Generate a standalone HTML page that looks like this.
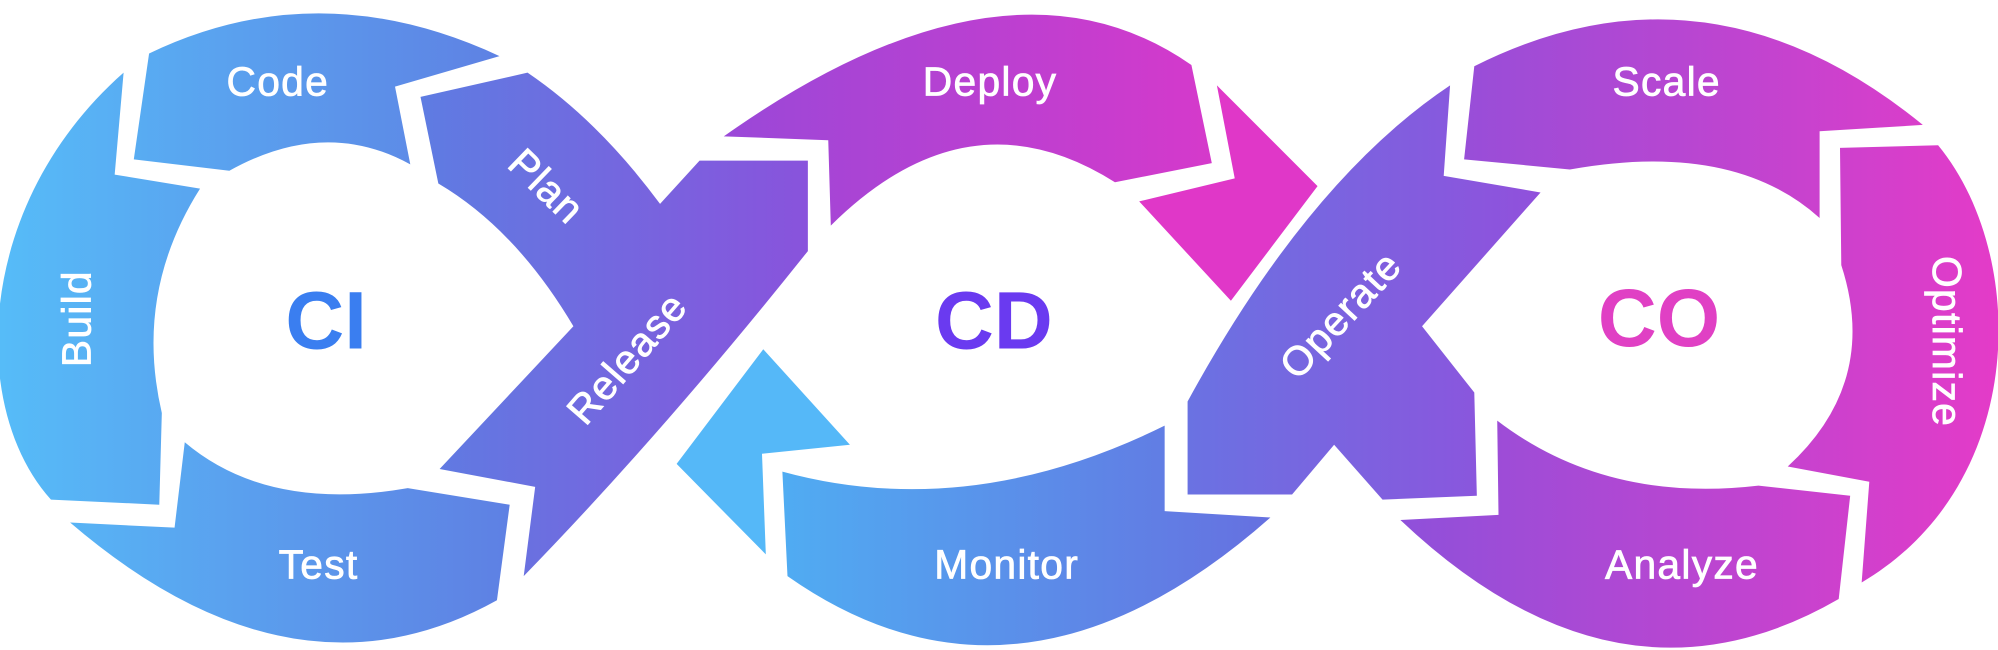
<!DOCTYPE html>
<html><head><meta charset="utf-8"><style>
html,body{margin:0;padding:0;background:#fff;}
svg{display:block;}
text{font-family:"Liberation Sans",sans-serif;fill:#fff;}
</style></head><body>
<svg width="1998" height="650" viewBox="0 0 1568 510" preserveAspectRatio="none" xmlns="http://www.w3.org/2000/svg">
<defs>
<linearGradient id="gci" gradientUnits="userSpaceOnUse" x1="0" y1="0" x2="420" y2="0"><stop offset="0" stop-color="#56bcf8"/><stop offset="1" stop-color="#5f7de2"/></linearGradient>
<linearGradient id="grel" gradientUnits="userSpaceOnUse" x1="330" y1="0" x2="640" y2="0"><stop offset="0" stop-color="#5e7ce2"/><stop offset="1" stop-color="#8a52dc"/></linearGradient>
<linearGradient id="gmon" gradientUnits="userSpaceOnUse" x1="614" y1="0" x2="997" y2="0"><stop offset="0" stop-color="#50acf2"/><stop offset="1" stop-color="#6670e0"/></linearGradient>
<linearGradient id="gdep" gradientUnits="userSpaceOnUse" x1="568" y1="0" x2="1034" y2="0"><stop offset="0" stop-color="#9a48d8"/><stop offset="1" stop-color="#e236c8"/></linearGradient>
<linearGradient id="gop" gradientUnits="userSpaceOnUse" x1="932" y1="0" x2="1209" y2="0"><stop offset="0" stop-color="#6a72e2"/><stop offset="1" stop-color="#9150dc"/></linearGradient>
<linearGradient id="gco" gradientUnits="userSpaceOnUse" x1="1099" y1="0" x2="1568" y2="0"><stop offset="0" stop-color="#8f50da"/><stop offset="1" stop-color="#e43bc8"/></linearGradient>
</defs>

<path fill="url(#gci)" d="M117,42 Q250,-22 392,44 L310,68 L322,129 Q255,92 180,134 L105,125 Z"/>
<path fill="url(#gci)" d="M97,57 L90,137 L157,148 Q105,230 127,324 L125,396 L40,392 C-25,320 -20,160 97,57 Z"/>
<path fill="url(#gci)" d="M55,410 L137,414 L145,347 Q210,402 320,383 L400,396 L390,471 Q230,560 55,410 Z"/>

<path fill="url(#grel)" d="M330,76 L414,57 Q470,95 518,160 L549,126 L634,126 L634,197 Q520,340 411,452 L420,382 L345,368 L450,256 Q405,180 344,144 Z"/>

<path fill="#55b8f8" d="M531,364 L599,274 L667,349 L598,356 L601,435 Z"/>
<path fill="url(#gmon)" d="M614,370 Q760,410 914,334 L914,401 L997,406 Q800,580 618,452 Z"/>

<path fill="url(#gdep)" d="M568,107 L650,110 L652,177 Q760,70 875,143 L951,128 L935,51 Q790,-50 568,107 Z"/>
<path fill="#e037c8" d="M955,67 L1034,146 L966,236 L894,158 L969,140 Z"/>

<path fill="url(#gop)" d="M932,315 L932,388 L1014,388 L1047,349 L1085,392 L1159,389 L1157,308 L1116,256 L1209,151 L1133,138 L1138,67 Q1027,141 932,315 Z"/>

<path fill="url(#gco)" d="M1157,52 L1149,125 L1232,133 Q1360,110 1428,171 L1428,103 L1509,98 Q1340,-40 1157,52 Z"/>
<path fill="url(#gco)" d="M1444,116 L1521,114 C1592,200 1592,380 1461,457 L1467,378 L1403,366 Q1475,300 1445,208 Z"/>
<path fill="url(#gco)" d="M1099,408 L1176,404 L1175,330 Q1260,395 1380,381 L1452,389 L1443,470 Q1270,570 1099,408 Z"/>

<g font-size="32" letter-spacing="1" text-anchor="middle" dominant-baseline="central" stroke="#fff" stroke-width="0.6">
<text x="218" y="64">Code</text>
<text transform="translate(60,250) rotate(-90)">Build</text>
<text x="250" y="443">Test</text>
<text transform="translate(429,146) rotate(44)">Plan</text>
<text transform="translate(492,281) rotate(-49)">Release</text>
<text x="777" y="64">Deploy</text>
<text x="790" y="443">Monitor</text>
<text transform="translate(1052,247) rotate(-47)">Operate</text>
<text x="1308" y="64">Scale</text>
<text transform="translate(1528,268) rotate(90)">Optimize</text>
<text x="1320" y="443">Analyze</text>
</g>
<g font-size="64" font-weight="bold" text-anchor="middle" dominant-baseline="central">
<text x="256" y="252" style="fill:#3a7ef0">CI</text>
<text x="780" y="252" style="fill:#6a3af0">CD</text>
<text x="1302" y="250" style="fill:#e040c4">CO</text>
</g>
</svg>
</body></html>
